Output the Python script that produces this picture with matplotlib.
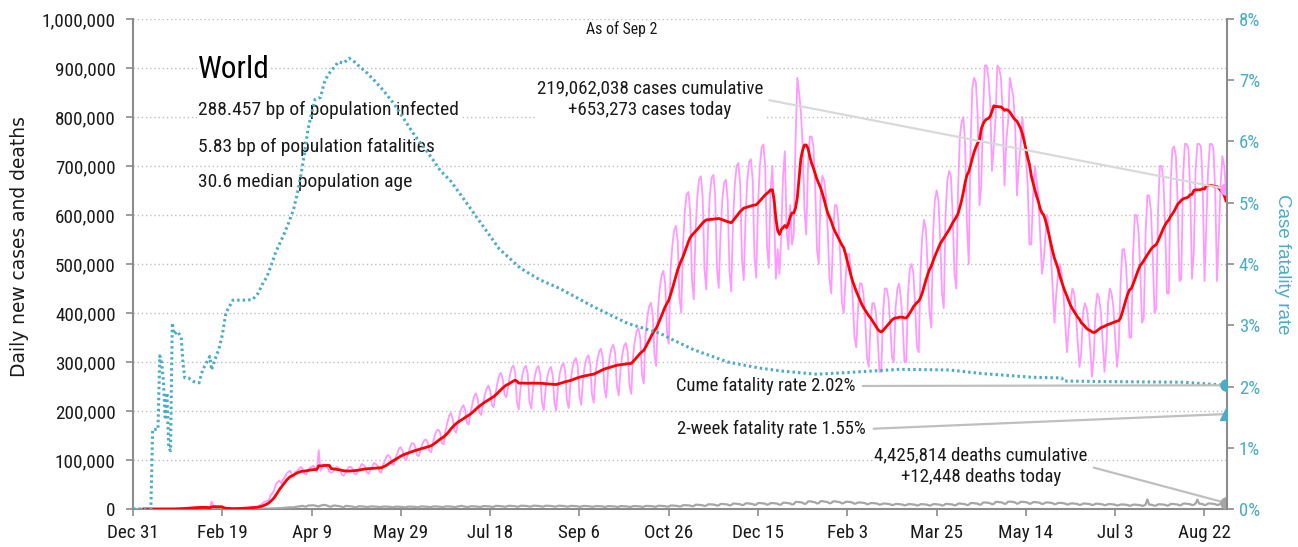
import numpy as np
import pandas as pd
import matplotlib
matplotlib.use("Agg")
import matplotlib.pyplot as plt
from matplotlib import font_manager
from matplotlib.ticker import FuncFormatter, PercentFormatter, MultipleLocator

# ---------------- data (daily values, first day = Dec 31 2019) ----------------
# daily new cases, thousands
cases_jan_mar_2020 = [
    0.027, 0, 0, 0, 0.017, 0, 0.015,
    0, 0, 0, 0, 0.001, 0, 0,
    0.001, 0.003, 0.004, 0.017, 0.136, 0.019, 0.151,
    0.14, 0.26, 0.15, 0.47, 0.69, 0.79, 1.77,
    1.46, 1.74, 1.98, 2.1, 2.6, 2.83, 3.24,
    3.9, 3.7, 3.7, 3.2, 2.7, 3.0, 2.5,
    2.0, 1.8, 15.1, 6.5, 2.6, 2.2, 2.1,
    1.9, 0.5, 0.6, 1.0, 0.9, 0.6, 0.5,
    0.8, 1.0, 1.3, 1.6, 2.0, 1.8, 1.9,
    2.5, 2.4, 2.7, 3.9, 3.9, 4.0, 3.7,
    5.5, 8.0, 9.5, 13.0, 15.5, 16.0, 17.5,
    28, 32, 38, 50, 55, 58, 52,
    60, 65, 72, 76, 78, 70, 66,
]
cases_apr_jul_2020 = [
    76, 78, 82, 86, 82, 72, 70,
    80, 84, 86, 88, 84, 76, 120,
    78, 86, 90, 88, 84, 76, 74,
    76, 82, 86, 84, 80, 70, 68,
    74, 80, 86, 86, 82, 72, 70,
    78, 84, 92, 90, 86, 74, 72,
    80, 86, 94, 92, 88, 76, 74,
    90, 98, 108, 110, 106, 92, 90,
    104, 114, 124, 126, 118, 104, 100,
    112, 124, 134, 134, 128, 110, 108,
    120, 132, 140, 142, 136, 118, 116,
    136, 150, 160, 162, 156, 134, 132,
    160, 176, 190, 196, 184, 160, 156,
    178, 194, 206, 212, 202, 176, 172,
    196, 214, 230, 236, 226, 196, 192,
    214, 232, 246, 252, 242, 212, 208,
    236, 256, 272, 278, 266, 234, 228,
]
cases_aug_oct_2020 = [
    247, 272, 288, 293, 278, 218, 203,
    246, 273, 287, 292, 277, 219, 205,
    246, 271, 287, 292, 276, 218, 202,
    244, 269, 284, 290, 274, 216, 201,
    251, 277, 292, 298, 282, 222, 206,
    259, 286, 302, 308, 292, 230, 213,
    264, 292, 308, 314, 297, 234, 217,
    276, 304, 321, 327, 310, 244, 227,
    282, 312, 329, 335, 318, 250, 232,
    285, 315, 333, 339, 321, 252, 235,
    311, 343, 363, 369, 350, 275, 256,
    354, 391, 413, 421, 399, 314, 292,
    409, 452, 477, 486, 460, 362, 337,
    487, 537, 568, 578, 548, 431, 401,
]
cases_nov_dec_2020 = [
    540, 608, 642, 647, 608, 467, 428,
    566, 637, 673, 679, 637, 490, 448,
    569, 640, 676, 682, 640, 492, 451,
    561, 631, 666, 672, 631, 485, 444,
    589, 663, 700, 706, 663, 510, 467,
    596, 671, 708, 714, 671, 515, 472,
    621, 699, 738, 744, 699, 537, 492,
    650, 700, 600, 470, 530, 480, 560,
]
cases_jan_mar_2021 = [
    680, 730, 570, 530, 620, 540, 560,
    750, 880, 850, 810, 740, 610, 560,
    700, 760, 760, 740, 660, 530, 500,
    640, 680, 670, 640, 570, 470, 440,
    560, 620, 620, 590, 520, 420, 400,
    470, 520, 520, 490, 430, 350, 330,
    410, 460, 460, 440, 390, 310, 290,
    380, 420, 420, 400, 350, 280, 280,
    400, 450, 450, 430, 380, 310, 300,
    410, 450, 460, 430, 380, 300, 300,
    440, 490, 500, 480, 410, 330, 320,
    490, 560, 590, 570, 490, 400, 370,
    560, 630, 650, 630, 550, 440, 410,
    600, 670, 690, 680, 600, 480, 450,
]
cases_apr_jun_2021 = [
    650, 760, 790, 800, 740, 580, 500,
    740, 860, 880, 870, 800, 620, 660,
    810, 905, 905, 880, 830, 690, 740,
    800, 905, 900, 880, 810, 660, 750,
    790, 880, 860, 840, 780, 640, 700,
    740, 800, 760, 720, 660, 540, 540,
    640, 700, 670, 640, 560, 480, 510,
    560, 600, 560, 520, 450, 380, 440,
    480, 500, 480, 440, 380, 320, 370,
    420, 450, 440, 400, 340, 290, 320,
    400, 420, 410, 380, 330, 270, 310,
    410, 440, 430, 400, 340, 280, 325,
    420, 450, 440, 410, 350, 290, 330,
]
cases_jul_sep_2021 = [
    460, 530, 530, 500, 430, 350, 350,
    520, 600, 600, 570, 490, 380, 390,
    560, 640, 640, 610, 520, 400, 410,
    610, 700, 700, 670, 570, 440, 440,
    660, 735, 740, 720, 620, 465, 470,
    680, 745, 745, 735, 650, 470, 525,
    690, 745, 745, 740, 660, 465, 575,
    690, 745, 745, 735, 650, 465, 555,
    660, 720, 700, 653.273,
]

# daily new deaths, thousands
deaths_jan_mar_2020 = [
    0, 0, 0, 0, 0, 0, 0,
    0, 0, 0, 0, 0.001, 0, 0,
    0, 0, 0, 0.001, 0, 0, 0.001,
    0.003, 0.008, 0.0, 0.008, 0.016, 0.015, 0.024,
    0.026, 0.026, 0.038, 0.043, 0.046, 0.045, 0.057,
    0.064, 0.066, 0.073, 0.073, 0.086, 0.089, 0.097,
    0.108, 0.097, 0.254, 0.121, 0.143, 0.142, 0.106,
    0.098, 0.139, 0.115, 0.118, 0.109, 0.097, 0.150,
    0.071, 0.052, 0.029, 0.044, 0.037, 0.058, 0.067,
    0.072, 0.084, 0.080, 0.106, 0.103, 0.100, 0.200,
    0.25, 0.3, 0.35, 0.4, 0.45, 0.6, 0.75,
    0.9, 1.0, 1.2, 1.4, 1.6, 1.7, 1.8,
    2.2, 2.5, 2.7, 3.2, 3.5, 3.2, 3.3,
]
deaths_apr_jul_2020 = [
    4.2, 4.8, 5.3, 6.1, 6.4, 5.2, 4.9,
    7.0, 7.3, 7.4, 7.6, 6.7, 5.6, 5.1,
    6.9, 7.7, 8.4, 7.8, 6.5, 5.1, 4.8,
    6.8, 7.0, 6.6, 6.4, 5.6, 4.3, 3.9,
    6.2, 6.2, 5.8, 5.4, 4.9, 3.6, 3.4,
    5.4, 5.5, 5.3, 5.1, 4.8, 3.9, 4.3,
    5.2, 5.3, 5.1, 4.9, 4.6, 3.8, 4.1,
    5.0, 5.0, 4.9, 4.7, 4.4, 3.6, 3.9,
    4.7, 4.8, 4.6, 4.5, 4.2, 3.4, 3.7,
    4.8, 4.9, 4.8, 4.6, 4.3, 3.5, 3.8,
    5.1, 5.2, 5.0, 4.8, 4.5, 3.7, 4.0,
    5.2, 5.3, 5.1, 4.9, 4.6, 3.8, 4.1,
    5.3, 5.4, 5.2, 5.0, 4.7, 3.8, 4.2,
    5.5, 5.6, 6.6, 5.3, 4.9, 4.0, 4.4,
    5.5, 5.6, 5.4, 5.3, 4.9, 4.0, 4.4,
    5.8, 5.9, 5.7, 5.6, 5.2, 4.2, 4.6,
    6.2, 6.3, 6.0, 5.9, 5.5, 4.5, 4.9,
]
deaths_aug_oct_2020 = [
    6.4, 6.5, 6.3, 6.1, 5.7, 4.6, 5.0,
    6.6, 6.7, 6.5, 6.3, 5.9, 4.8, 5.2,
    6.6, 6.7, 6.5, 6.3, 5.9, 4.8, 5.2,
    6.6, 6.7, 6.5, 6.3, 5.9, 4.8, 5.2,
    6.5, 6.6, 6.4, 6.2, 5.8, 4.7, 5.1,
    6.2, 6.3, 6.0, 5.9, 5.5, 4.5, 4.9,
    6.1, 6.2, 5.9, 5.8, 5.4, 4.4, 4.8,
    5.9, 6.0, 5.8, 5.7, 5.3, 4.3, 4.7,
    5.8, 5.9, 5.7, 5.6, 5.2, 4.2, 4.6,
    5.8, 5.9, 5.7, 5.6, 5.2, 4.2, 4.6,
    5.9, 6.0, 5.8, 5.7, 5.3, 4.3, 4.7,
    6.2, 6.3, 6.0, 5.9, 5.5, 4.5, 4.9,
    6.5, 6.6, 6.4, 6.2, 5.8, 4.7, 5.1,
    6.9, 7.1, 6.8, 6.6, 6.2, 5.0, 5.5,
]
deaths_nov_dec_2020 = [
    7.7, 7.8, 7.6, 7.4, 6.9, 5.6, 6.1,
    8.6, 8.7, 8.4, 8.2, 7.6, 6.2, 6.8,
    9.5, 9.6, 9.3, 9.0, 8.4, 6.9, 7.5,
    10.2, 10.4, 10.0, 9.8, 9.1, 7.4, 8.1,
    10.9, 11.1, 10.7, 10.4, 9.7, 7.9, 8.6,
    11.4, 11.6, 11.2, 10.9, 10.2, 8.3, 9.0,
    12.0, 12.2, 11.8, 11.4, 10.7, 8.7, 9.5,
    11.9, 12.1, 11.7, 11.3, 10.6, 8.6, 9.4,
]
deaths_jan_mar_2021 = [
    12.7, 12.9, 12.4, 12.1, 11.3, 9.2, 10.0,
    14.3, 14.6, 14.0, 13.7, 12.7, 10.4, 11.3,
    15.4, 15.7, 15.1, 14.7, 13.7, 11.2, 12.2,
    15.7, 16.0, 15.4, 15.0, 14.0, 11.4, 12.4,
    15.4, 15.7, 15.1, 14.7, 13.7, 11.2, 12.2,
    14.5, 14.8, 14.3, 13.9, 12.9, 10.6, 11.5,
    13.2, 13.4, 13.0, 12.6, 11.8, 9.6, 10.4,
    12.0, 12.2, 11.8, 11.4, 10.7, 8.7, 9.5,
    10.9, 11.1, 10.7, 10.4, 9.7, 7.9, 8.6,
    10.1, 10.3, 9.9, 9.7, 9.0, 7.4, 8.0,
    9.8, 10.0, 9.6, 9.3, 8.7, 7.1, 7.7,
    9.7, 9.9, 9.5, 9.2, 8.6, 7.0, 7.7,
    9.8, 10.0, 9.6, 9.3, 8.7, 7.1, 7.7,
    10.2, 10.4, 10.0, 9.8, 9.1, 7.4, 8.1,
]
deaths_apr_jun_2021 = [
    11.0, 11.2, 10.8, 10.5, 9.8, 8.0, 8.7,
    12.0, 12.2, 11.8, 11.4, 10.7, 8.7, 9.5,
    13.2, 13.4, 13.0, 12.6, 11.8, 9.6, 10.4,
    14.3, 14.6, 14.0, 13.7, 12.7, 10.4, 11.3,
    14.9, 15.1, 14.6, 14.2, 13.2, 10.8, 11.7,
    14.5, 14.8, 14.3, 13.9, 12.9, 10.6, 11.5,
    13.9, 14.1, 13.6, 13.2, 12.3, 10.1, 11.0,
    13.2, 13.4, 13.0, 12.6, 11.8, 9.6, 10.4,
    12.3, 12.5, 12.1, 11.8, 11.0, 9.0, 9.7,
    11.3, 11.5, 11.1, 10.8, 10.1, 8.2, 9.0,
    11.0, 11.2, 10.8, 10.5, 9.8, 8.0, 8.7,
    10.6, 10.8, 10.4, 10.1, 9.4, 7.7, 8.4,
    9.9, 10.1, 9.7, 9.5, 8.8, 7.2, 7.8,
]
deaths_jul_sep_2021 = [
    9.1, 9.3, 9.0, 8.7, 8.1, 6.6, 7.2,
    8.8, 9.0, 8.6, 8.4, 7.8, 6.4, 7.0,
    9.1, 19.5, 9.0, 8.7, 8.1, 6.6, 7.2,
    9.5, 9.6, 9.3, 9.0, 8.4, 6.9, 7.5,
    10.2, 10.4, 10.0, 9.8, 9.1, 7.4, 8.1,
    10.9, 11.1, 10.7, 10.4, 9.7, 7.9, 8.6,
    11.1, 19.0, 10.9, 10.6, 9.9, 8.1, 8.8,
    11.1, 11.3, 10.9, 10.6, 9.9, 8.1, 8.8,
    11.0, 11.2, 10.8, 12.448,
]

# cumulative case fatality rate (%), by day number
cfr_day = [0, 10, 11, 14, 15, 16, 17, 18, 19, 20, 21, 22, 23, 25, 27, 28, 29, 31,
           34, 37, 39, 41, 43, 44, 46, 48, 50, 52, 55, 56, 60, 64, 67, 70, 73, 75,
           78, 80, 84, 87, 90, 92, 94, 96, 98, 100, 102, 105, 107, 109, 112, 115,
           118, 121, 124, 127, 131, 136, 140, 146, 151, 157, 163, 168, 172, 178,
           183, 194, 205, 217, 228, 239, 258, 277, 295, 301, 314, 333, 351, 364,
           383, 401, 429, 457, 476, 504, 520, 521, 545, 588, 612]
cfr_pct = [0, 0, 1.3, 1.3, 2.5, 2.4, 2.1, 1.5, 1.9, 1.0, 0.95, 3.04, 2.85, 2.9, 2.8,
           2.38, 2.14, 2.14, 2.08, 2.06, 2.27, 2.38, 2.49, 2.27, 2.45, 2.6, 2.84,
           3.2, 3.36, 3.41, 3.41, 3.41, 3.42, 3.52, 3.7, 3.79, 4.03, 4.2, 4.45,
           4.66, 4.9, 5.15, 5.45, 5.8, 6.2, 6.46, 6.69, 6.72, 6.95, 7.08, 7.19,
           7.3, 7.28, 7.36, 7.3, 7.22, 7.12, 6.97, 6.84, 6.62, 6.4, 6.13, 5.9,
           5.7, 5.53, 5.35, 5.15, 4.7, 4.25, 3.93, 3.74, 3.6, 3.3, 3.03, 2.87,
           2.78, 2.6, 2.4, 2.3, 2.25, 2.2, 2.23, 2.28, 2.27, 2.21, 2.15, 2.14,
           2.09, 2.08, 2.07, 2.02]

two_week_cfr_pct = 1.55
x_tick_labels = ["Dec 31", "Feb 19", "Apr 9", "May 29", "Jul 18", "Sep 6", "Oct 26",
                 "Dec 15", "Feb 3", "Mar 25", "May 14", "Jul 3", "Aug 22"]
stats_lines = ["288.457 bp of population infected",
               "5.83 bp of population fatalities",
               "30.6 median population age"]

# ---------------- fonts ----------------
avail = {f.name for f in font_manager.fontManager.ttflist}
COND = "Roboto Condensed" if "Roboto Condensed" in avail else "Liberation Sans Narrow"
plt.rcParams["font.family"] = [COND, "DejaVu Sans"]

TXT = "#1a1a1a"
TEAL = "#4BACC6"
PINK = "#FF99FF"
GREY = "#A6A6A6"

cases = np.array(cases_jan_mar_2020 + cases_apr_jul_2020 + cases_aug_oct_2020 +
                 cases_nov_dec_2020 + cases_jan_mar_2021 + cases_apr_jun_2021 +
                 cases_jul_sep_2021) * 1000
deaths = np.array(deaths_jan_mar_2020 + deaths_apr_jul_2020 + deaths_aug_oct_2020 +
                  deaths_nov_dec_2020 + deaths_jan_mar_2021 + deaths_apr_jun_2021 +
                  deaths_jul_sep_2021) * 1000
days = np.arange(len(cases))
avg7 = pd.Series(cases).rolling(7).mean()
last = days[-1]

W, H = 1298, 547
fig = plt.figure(figsize=(W / 100, H / 100), dpi=100)
ax = fig.add_axes([133 / W, 1 - 509 / H, (1227 - 133) / W, (509 - 19) / H])
ax2 = ax.twinx()
ax2.set_zorder(ax.get_zorder() + 1)
ax2.patch.set_visible(False)

ax.plot(days, cases, color=PINK, lw=1.3, zorder=3)
ax.plot(days, deaths, color=GREY, lw=1.6, zorder=3)
ax.plot(days, avg7, color="#FF0000", lw=2.0, zorder=4)
ax.plot([last], [cases[-1]], "o", ms=8, color=PINK, zorder=5)
ax.plot([last], [deaths[-1]], "o", ms=8, color=GREY, zorder=5)

ax2.plot(cfr_day, np.array(cfr_pct) / 100, color=TEAL, lw=2.2,
         ls=(0, (0.8, 1.0)), zorder=3)
ax2.plot([last], [cfr_pct[-1] / 100], "o", ms=8, color=TEAL, zorder=5)
ax2.plot([last], [two_week_cfr_pct / 100], "^", ms=9, color=TEAL, zorder=5)

ax.set_xlim(0, 612.6)
ax.set_ylim(0, 1_000_000)
ax2.set_ylim(0, 0.08)

ax.yaxis.set_major_locator(MultipleLocator(100_000))
ax.yaxis.set_major_formatter(FuncFormatter(lambda v, p: f"{v:,.0f}"))
ax.yaxis.grid(True, color="#BFBFBF", ls=(0, (1, 2)), lw=1)
ax.set_axisbelow(True)
ax.set_xticks(np.arange(len(x_tick_labels)) * 50)
ax.set_xticklabels(x_tick_labels)
ax2.yaxis.set_major_locator(MultipleLocator(0.01))
ax2.yaxis.set_major_formatter(PercentFormatter(1.0, decimals=0))

for s in ["top", "right"]:
    ax.spines[s].set_visible(False)
for s in ["top", "left", "bottom"]:
    ax2.spines[s].set_visible(False)
for sp in [ax.spines["left"], ax.spines["bottom"], ax2.spines["right"]]:
    sp.set_color("#8C8C8C")
    sp.set_linewidth(1.5)

ax.tick_params(axis="both", direction="out", length=5, width=1.2, color="#8C8C8C",
               labelsize=13.8, labelcolor=TXT)
ax.tick_params(axis="x", pad=6)
ax.tick_params(axis="y", pad=7.5)
ax2.tick_params(axis="y", direction="out", length=5, width=1.2, color="#8C8C8C",
                labelsize=13.5, labelcolor=TEAL)

ax.set_ylabel("Daily new cases and deaths", fontsize=13.4, family="DejaVu Sans",
              color=TXT)
ax.yaxis.set_label_coords((29 - 133) / (1227 - 133), (509 - 247) / (509 - 19))
ax2.set_ylabel("Case fatality rate", fontsize=13.5, family="Liberation Sans",
               color=TEAL, rotation=270, labelpad=22)

def afx(px):
    return (px - 133) / (1227 - 133)

def afy(py):
    return (509 - py) / (509 - 19)

box = dict(facecolor="white", edgecolor="none", pad=0.5)
ax.text(afx(198), afy(78), "World", transform=ax.transAxes, fontsize=22.5,
        color="black", ha="left", va="baseline", bbox=box, zorder=2.5)
for py, line in zip([115, 152, 187], stats_lines):
    ax.text(afx(198), afy(py), line, transform=ax.transAxes, fontsize=14,
            color=TXT, ha="left", va="baseline", bbox=box, zorder=2.5)
ax.text(afx(622), afy(34), "As of Sep 2", transform=ax.transAxes, fontsize=11.4,
        color=TXT, ha="center", va="baseline")

ax.annotate(f"{219062038:,} cases cumulative\n+{653273:,} cases today",
            xy=(last, cases[-1]), xycoords="data",
            xytext=(afx(650), afy(99)), textcoords="axes fraction",
            ha="center", va="center", fontsize=13.7, color=TXT, linespacing=1.3,
            bbox=box, zorder=4.5,
            arrowprops=dict(arrowstyle="-", color="#D9D9D9", lw=1.6,
                            relpos=(1, 0.5), shrinkA=4, shrinkB=0))
ax.annotate(f"{4425814:,} deaths cumulative\n+{12448:,} deaths today",
            xy=(last, deaths[-1]), xycoords="data",
            xytext=(afx(981), afy(466)), textcoords="axes fraction",
            ha="center", va="center", fontsize=13.6, color=TXT, linespacing=1.3,
            bbox=box, zorder=4.5,
            arrowprops=dict(arrowstyle="-", color="#BFBFBF", lw=1.6,
                            relpos=(1, 0.5), shrinkA=4, shrinkB=0))
ax2.annotate(f"Cume fatality rate {cfr_pct[-1]:.2f}%",
             xy=(last, cfr_pct[-1] / 100), xycoords="data",
             xytext=(afx(855), afy(386)), textcoords="axes fraction",
             ha="right", va="center", fontsize=13.4, color=TXT, bbox=box,
             arrowprops=dict(arrowstyle="-", color="#BFBFBF", lw=1.6,
                             relpos=(1, 0.5), shrinkA=5, shrinkB=0))
ax2.annotate(f"2-week fatality rate {two_week_cfr_pct:.2f}%",
             xy=(last, two_week_cfr_pct / 100), xycoords="data",
             xytext=(afx(866), afy(429)), textcoords="axes fraction",
             ha="right", va="center", fontsize=13.4, color=TXT, bbox=box,
             arrowprops=dict(arrowstyle="-", color="#BFBFBF", lw=1.6,
                             relpos=(1, 0.5), shrinkA=5, shrinkB=0))

fig.savefig("out.png", dpi=100)
